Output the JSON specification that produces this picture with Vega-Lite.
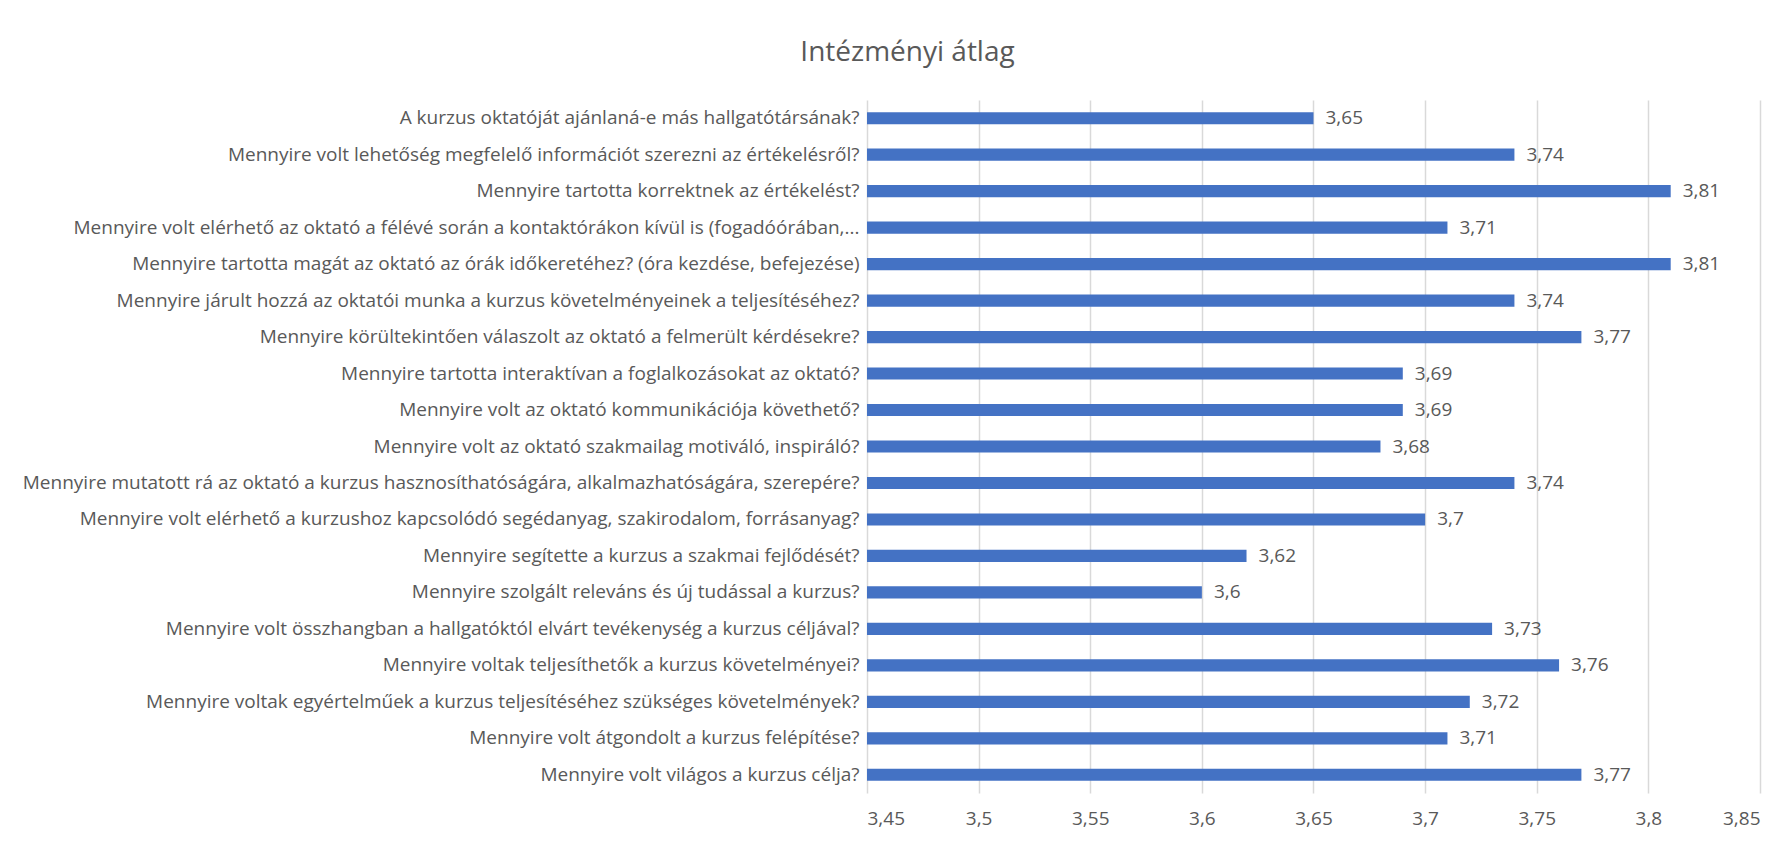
{
  "$schema": "https://vega.github.io/schema/vega-lite/v6.json",
  "autosize": {"type": "none"},
  "padding": {"left": 867, "top": 100, "right": 29, "bottom": 52},
  "width": 893,
  "height": 693,
  "background": "white",
  "config": {
    "locale": {"number": {"decimal": ",", "thousands": " ", "grouping": [3], "currency": ["", " Ft"]}},
    "font": "Open Sans",
    "view": {"stroke": null}
  },
  "title": {
    "text": "Intézményi átlag",
    "font": "Open Sans",
    "fontSize": 28,
    "fontWeight": "normal",
    "color": "#595959",
    "anchor": "middle",
    "dx": -406,
    "offset": 33
  },
  "data": {
    "values": [
      {"q": "A kurzus oktatóját ajánlaná-e más hallgatótársának?", "v": 3.65},
      {"q": "Mennyire volt lehetőség megfelelő információt szerezni az értékelésről?", "v": 3.74},
      {"q": "Mennyire tartotta korrektnek az értékelést?", "v": 3.81},
      {"q": "Mennyire volt elérhető az oktató a félévé során a kontaktórákon kívül is (fogadóórában,...", "v": 3.71},
      {"q": "Mennyire tartotta magát az oktató az órák időkeretéhez? (óra kezdése, befejezése)", "v": 3.81},
      {"q": "Mennyire járult hozzá az oktatói munka a kurzus követelményeinek a teljesítéséhez?", "v": 3.74},
      {"q": "Mennyire körültekintően válaszolt az oktató a felmerült kérdésekre?", "v": 3.77},
      {"q": "Mennyire tartotta interaktívan a foglalkozásokat az oktató?", "v": 3.69},
      {"q": "Mennyire volt az oktató kommunikációja követhető?", "v": 3.69},
      {"q": "Mennyire volt az oktató szakmailag motiváló, inspiráló?", "v": 3.68},
      {"q": "Mennyire mutatott rá az oktató a kurzus hasznosíthatóságára, alkalmazhatóságára, szerepére?", "v": 3.74},
      {"q": "Mennyire volt elérhető a kurzushoz kapcsolódó segédanyag, szakirodalom, forrásanyag?", "v": 3.7},
      {"q": "Mennyire segítette a kurzus a szakmai fejlődését?", "v": 3.62},
      {"q": "Mennyire szolgált releváns és új tudással a kurzus?", "v": 3.6},
      {"q": "Mennyire volt összhangban a hallgatóktól elvárt tevékenység a kurzus céljával?", "v": 3.73},
      {"q": "Mennyire voltak teljesíthetők a kurzus követelményei?", "v": 3.76},
      {"q": "Mennyire voltak egyértelműek a kurzus teljesítéséhez szükséges követelmények?", "v": 3.72},
      {"q": "Mennyire volt átgondolt a kurzus felépítése?", "v": 3.71},
      {"q": "Mennyire volt világos a kurzus célja?", "v": 3.77}
    ]
  },
  "encoding": {
    "y": {
      "field": "q",
      "type": "nominal",
      "sort": null,
      "title": null,
      "scale": {"paddingInner": 0.667, "paddingOuter": 0.333},
      "axis": {
        "domain": false,
        "ticks": false,
        "grid": false,
        "labelLimit": 1000,
        "labelPadding": 8,
        "labelFont": "Open Sans",
        "labelFontSize": 19,
        "labelColor": "#595959"
      }
    },
    "x": {
      "field": "v",
      "type": "quantitative",
      "title": null,
      "scale": {"domain": [3.45, 3.85], "nice": false, "zero": false},
      "axis": {
        "values": [3.45, 3.5, 3.55, 3.6, 3.65, 3.7, 3.75, 3.8, 3.85],
        "format": ".2~f",
        "domain": false,
        "ticks": false,
        "grid": true,
        "gridColor": "#D9D9D9",
        "gridWidth": 1.5,
        "labelPadding": 16,
        "labelFont": "Open Sans",
        "labelFontSize": 19,
        "labelColor": "#595959"
      }
    }
  },
  "layer": [
    {
      "mark": {"type": "bar", "color": "#4472C4"},
      "encoding": {"x2": {"datum": 3.45}}
    },
    {
      "mark": {"type": "text", "align": "left", "baseline": "middle", "dx": 12, "font": "Open Sans", "fontSize": 19, "color": "#595959"},
      "encoding": {"text": {"field": "v", "type": "quantitative", "format": ".2~f"}}
    }
  ]
}
